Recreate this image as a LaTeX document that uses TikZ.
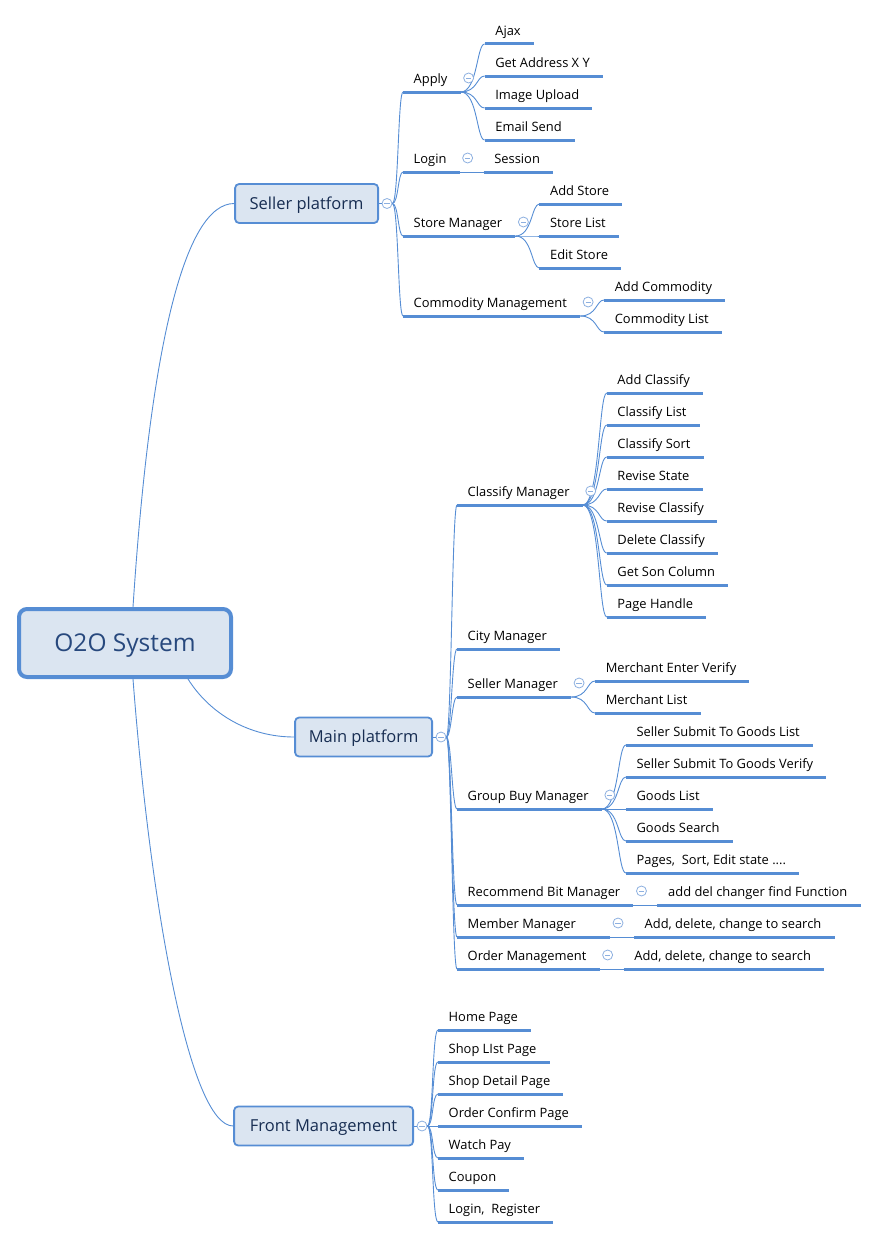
\documentclass[tikz,border=0pt]{standalone}
\usepackage{fontspec}
\setmainfont{Open Sans}
\usepackage{xcolor}
\usetikzlibrary{positioning}

\definecolor{lineblue}{RGB}{86,141,212}
\definecolor{boxfill}{RGB}{219,229,241}
\definecolor{roottext}{RGB}{39,72,125}
\definecolor{branchtext}{RGB}{23,45,82}
\definecolor{foldblue}{RGB}{141,176,224}

\begin{document}
\begin{tikzpicture}[
    x=1pt, y=-1pt,
    rootbox/.style={draw=lineblue, line width=4pt, rounded corners=8pt, fill=boxfill, minimum width=212pt, minimum height=68pt, text height=17.5pt, text depth=0pt, font=\fontsize{24.5}{28}\selectfont, text=roottext},
    branch/.style={draw=lineblue, line width=1.8pt, rounded corners=4pt, fill=boxfill, minimum height=39pt, text height=11.8pt, text depth=0pt, anchor=east, font=\fontsize{16.5}{19}\selectfont, text=branchtext},
    topic/.style={anchor=south west, inner xsep=10.5pt, inner ysep=0pt, text depth=8.5pt, font=\fontsize{12.9}{15}\selectfont, execute at end node=\hspace*{2.5pt}},
    fold/.style={circle, draw=foldblue, fill=white, line width=0.8pt, minimum size=10pt, inner sep=0pt,
        path picture={\draw[foldblue, line width=0.8pt] ([xshift=-2.6pt]path picture bounding box.center) -- ([xshift=2.6pt]path picture bounding box.center);}},
    link/.style={draw=lineblue, line width=0.9pt},
    uline/.style={draw=lineblue, line width=3pt}
]
    \useasboundingbox (0,0) rectangle (875,1239);

    % root and main branches
    \node[rootbox] (root) at (125,643) {O2O System};
    \node[branch, minimum width=143pt] (seller) at (379,203.5) {Seller platform};
    \node[branch, minimum width=137pt] (main) at (433,737) {Main platform};
    \node[branch, minimum width=179pt] (front) at (414,1126) {Front Management};

    % seller platform
    \node[topic] (apply) at ([shift={(24,-111.5)}]seller.east) {Apply};
    \node[topic] (login) at ([shift={(24,-31.5)}]seller.east) {Login};
    \node[topic] (storem) at ([shift={(24,32.5)}]seller.east) {Store Manager};
    \node[topic] (commod) at ([shift={(24,112.5)}]seller.east) {Commodity Management};

    \node[topic] (ajax) at ([shift={(24,-48)}]apply.south east) {Ajax};
    \node[topic] (getxy) at ([shift={(24,-16)}]apply.south east) {Get Address X Y};
    \node[topic] (imgup) at ([shift={(24,16)}]apply.south east) {Image Upload};
    \node[topic] (email) at ([shift={(24,48)}]apply.south east) {Email Send};
    \node[topic] (session) at ([shift={(24,0)}]login.south east) {Session};
    \node[topic] (addstore) at ([shift={(24,-32)}]storem.south east) {Add Store};
    \node[topic] (storelist) at ([shift={(24,0)}]storem.south east) {Store List};
    \node[topic] (editstore) at ([shift={(24,32)}]storem.south east) {Edit Store};
    \node[topic] (addcom) at ([shift={(24,-16)}]commod.south east) {Add Commodity};
    \node[topic] (comlist) at ([shift={(24,16)}]commod.south east) {Commodity List};

    % main platform
    \node[topic] (classify) at ([shift={(24,-232)}]main.east) {Classify Manager};
    \node[topic] (city) at ([shift={(24,-88)}]main.east) {City Manager};
    \node[topic] (sellerm) at ([shift={(24,-40)}]main.east) {Seller Manager};
    \node[topic] (groupbuy) at ([shift={(24,72)}]main.east) {Group Buy Manager};
    \node[topic] (recommend) at ([shift={(24,168)}]main.east) {Recommend Bit Manager};
    \node[topic] (member) at ([shift={(24,200)}]main.east) {Member Manager\hspace*{21pt}};
    \node[topic] (order) at ([shift={(24,232)}]main.east) {Order Management};

    \node[topic] (addcls) at ([shift={(24,-112)}]classify.south east) {Add Classify};
    \node[topic] (clslist) at ([shift={(24,-80)}]classify.south east) {Classify List};
    \node[topic] (clssort) at ([shift={(24,-48)}]classify.south east) {Classify Sort};
    \node[topic] (revstate) at ([shift={(24,-16)}]classify.south east) {Revise State};
    \node[topic] (revcls) at ([shift={(24,16)}]classify.south east) {Revise Classify};
    \node[topic] (delcls) at ([shift={(24,48)}]classify.south east) {Delete Classify};
    \node[topic] (soncol) at ([shift={(24,80)}]classify.south east) {Get Son Column};
    \node[topic] (pagehd) at ([shift={(24,112)}]classify.south east) {Page Handle};
    \node[topic] (enterver) at ([shift={(24,-16)}]sellerm.south east) {Merchant Enter Verify};
    \node[topic] (merlist) at ([shift={(24,16)}]sellerm.south east) {Merchant List};
    \node[topic] (sublist) at ([shift={(24,-64)}]groupbuy.south east) {Seller Submit To Goods List};
    \node[topic] (subver) at ([shift={(24,-32)}]groupbuy.south east) {Seller Submit To Goods Verify};
    \node[topic] (goodslist) at ([shift={(24,0)}]groupbuy.south east) {Goods List};
    \node[topic] (goodssearch) at ([shift={(24,32)}]groupbuy.south east) {Goods Search};
    \node[topic] (pages) at ([shift={(24,64)}]groupbuy.south east) {Pages,\ \ Sort, Edit state ....};
    \node[topic] (recops) at ([shift={(24,0)}]recommend.south east) {add del changer find Function};
    \node[topic] (memops) at ([shift={(24,0)}]member.south east) {Add, delete, change to search};
    \node[topic] (ordops) at ([shift={(24,0)}]order.south east) {Add, delete, change to search};

    % front management
    \node[topic] (home) at ([shift={(24,-96)}]front.east) {Home Page};
    \node[topic] (shoplist) at ([shift={(24,-64)}]front.east) {Shop LIst Page};
    \node[topic] (shopdetail) at ([shift={(24,-32)}]front.east) {Shop Detail Page};
    \node[topic] (confirm) at ([shift={(24,0)}]front.east) {Order Confirm Page};
    \node[topic] (watchpay) at ([shift={(24,32)}]front.east) {Watch Pay};
    \node[topic] (coupon) at ([shift={(24,64)}]front.east) {Coupon};
    \node[topic] (loginreg) at ([shift={(24,96)}]front.east) {Login,\ \ Register};

    % underlines
    \foreach \n in {apply,login,storem,commod,ajax,getxy,imgup,email,session,addstore,storelist,editstore,addcom,comlist,
        classify,city,sellerm,groupbuy,recommend,member,order,addcls,clslist,clssort,revstate,revcls,delcls,soncol,pagehd,
        enterver,merlist,sublist,subver,goodslist,goodssearch,pages,recops,memops,ordops,
        home,shoplist,shopdetail,confirm,watchpay,coupon,loginreg}
        \draw[uline] (\n.south west) -- (\n.south east);

    % root to branches
    \draw[link] ([xshift=8pt]root.north) .. controls +(17,-259) and +(-50,0) .. (seller.west);
    \draw[link] ([xshift=63pt]root.south) .. controls +(22,35) and +(-45,0) .. (main.west);
    \draw[link] ([xshift=8pt]root.south) .. controls +(17,223) and +(-44,0) .. (front.west);

    % branch folds and trunks
    \foreach \b in {seller,main,front} {
        \node[fold] (\b-f) at ([xshift=8pt]\b.east) {};
        \draw[link] (\b.east) -- (\b-f);
    }
    \foreach \c in {apply,login,storem,commod}
        \draw[link] (seller-f.east) .. controls +(6,0) and +(-5,0) .. (\c.south west);
    \foreach \c in {classify,city,sellerm,groupbuy,recommend,member,order}
        \draw[link] (main-f.east) .. controls +(5,0) and +(-5,0) .. (\c.south west);
    \foreach \c in {home,shoplist,shopdetail,confirm,watchpay,coupon,loginreg}
        \draw[link] (front-f.east) .. controls +(6,0) and +(-6,0) .. (\c.south west);

    % subtopic trunks
    \foreach \c in {ajax,getxy,imgup,email}
        \draw[link] (apply.south east) .. controls +(17,0) and +(-8,0) .. (\c.south west);
    \draw[link] (login.south east) -- (session.south west);
    \foreach \c in {addstore,storelist,editstore}
        \draw[link] (storem.south east) .. controls +(17,0) and +(-8,0) .. (\c.south west);
    \foreach \c in {addcom,comlist}
        \draw[link] (commod.south east) .. controls +(17,0) and +(-8,0) .. (\c.south west);
    \foreach \c in {addcls,clslist,clssort,revstate,revcls,delcls,soncol,pagehd}
        \draw[link] (classify.south east) .. controls +(17,0) and +(-8,0) .. (\c.south west);
    \foreach \c in {enterver,merlist}
        \draw[link] (sellerm.south east) .. controls +(17,0) and +(-8,0) .. (\c.south west);
    \foreach \c in {sublist,subver,goodslist,goodssearch,pages}
        \draw[link] (groupbuy.south east) .. controls +(17,0) and +(-8,0) .. (\c.south west);
    \draw[link] (recommend.south east) -- (recops.south west);
    \draw[link] (member.south east) -- (memops.south west);
    \draw[link] (order.south east) -- (ordops.south west);

    % fold markers
    \foreach \p in {apply,login,storem,commod,classify,sellerm,groupbuy,recommend,member,order}
        \node[fold] (\p-f) at ([shift={(8,-14)}]\p.south east) {};
\end{tikzpicture}
\end{document}
